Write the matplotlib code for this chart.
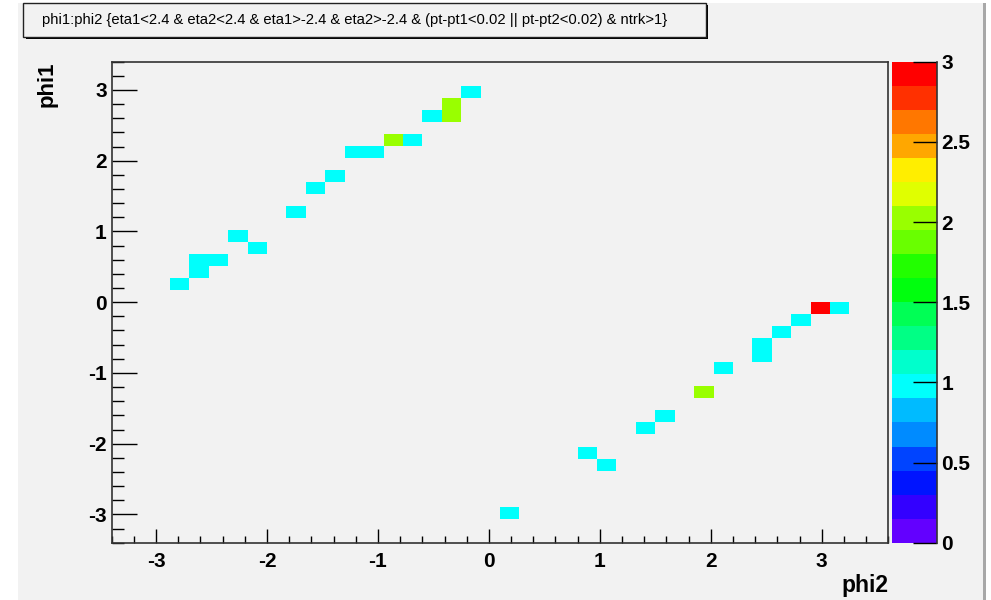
import colorsys
import numpy as np
import matplotlib
matplotlib.use("Agg")
import matplotlib.pyplot as plt
from matplotlib.colors import ListedColormap, BoundaryNorm
from matplotlib.patches import Rectangle
from matplotlib.ticker import MultipleLocator

# filled cells of the 2D histogram: bin centre in phi2 (x), phi1 (y) and the entries
phi2 = [-2.7875, -2.6125, -2.6125, -2.4375, -2.2625, -2.0875, -1.7375, -1.5625,
        -1.3875, -1.2125, -1.0375, -0.8625, -0.6875, -0.5125, -0.3375, -0.3375,
        -0.1625,
        0.1875, 0.8875, 1.0625, 1.4125, 1.5875, 1.9375, 2.1125, 2.4625, 2.4625,
        2.6375, 2.8125, 2.9875, 3.1625]
phi1 = [0.255, 0.595, 0.425, 0.595, 0.935, 0.765, 1.275, 1.615,
        1.785, 2.125, 2.125, 2.295, 2.295, 2.635, 2.805, 2.635,
        2.975,
        -2.975, -2.125, -2.295, -1.785, -1.615, -1.275, -0.935, -0.595, -0.765,
        -0.425, -0.255, -0.085, -0.085]
entries = [1, 1, 1, 1, 1, 1, 1, 1,
           1, 1, 1, 2, 1, 1, 2, 2,
           1,
           1, 1, 1, 1, 1, 2, 1, 1, 1,
           1, 1, 3, 1]

title = "phi1:phi2 {eta1<2.4 & eta2<2.4 & eta1>-2.4 & eta2>-2.4 & (pt-pt1<0.02 || pt-pt2<0.02) & ntrk>1}"
xticks = [-3, -2, -1, 0, 1, 2, 3]
yticks = [-3, -2, -1, 0, 1, 2, 3]
zticks = [0, 0.5, 1, 1.5, 2, 2.5, 3]

# 40 x 40 binning like the TH2 from TTree::Draw
xedges = np.linspace(-3.4, 3.6, 41)
yedges = np.linspace(-3.4, 3.4, 41)
levels = np.linspace(0, 3, 21)

# ROOT "pretty" palette (50 colours), sampled for 20 contours
pretty = [colorsys.hls_to_rgb((280 - (i + 1) * 5.6) / 360.0, 0.5, 1.0) for i in range(50)]
cols = [pretty[int((k + 0.99) * 50 / 20)] for k in range(20)]
cmap = ListedColormap(cols)
norm = BoundaryNorm(levels, cmap.N)

plt.rcParams['font.family'] = ['Liberation Sans', 'DejaVu Sans']
plt.rcParams['axes.unicode_minus'] = False

W, H = 991, 600
fig = plt.figure(figsize=(W / 100, H / 100), dpi=100, facecolor='white')

def fx(px):
    return px / W

def fy(py):
    return 1 - py / H

# grey canvas
fig.patches.append(Rectangle((fx(18), 0), fx(984) - fx(18), fy(3), transform=fig.transFigure,
                             facecolor='#f2f2f2', edgecolor='none', zorder=-2))
fig.patches.append(Rectangle((fx(983), 0), fx(3), fy(3), transform=fig.transFigure,
                             facecolor='#a8a8a8', edgecolor='none', zorder=-2))

ax = fig.add_axes([fx(111.7), fy(542.7), fx(888.3) - fx(111.7), fy(61.7) - fy(542.7)])
ax.set_facecolor('#f2f2f2')

h, _, _ = np.histogram2d(phi2, phi1, bins=[xedges, yedges], weights=entries)
h = np.ma.masked_equal(h.T, 0)
mesh = ax.pcolormesh(xedges, yedges, h, cmap=cmap, norm=norm, edgecolors='none', antialiased=False)

ax.set_xlim(xedges[0], xedges[-1])
ax.set_ylim(yedges[0], yedges[-1])
ax.set_xticks(xticks)
ax.set_yticks(yticks)
ax.xaxis.set_minor_locator(MultipleLocator(0.2))
ax.yaxis.set_minor_locator(MultipleLocator(0.2))
ax.tick_params(axis='x', which='major', direction='in', length=10, width=1, pad=6.5,
               labelsize=15, top=False)
ax.tick_params(axis='x', which='minor', direction='in', length=5, width=1, top=False)
ax.tick_params(axis='y', which='major', direction='in', length=18, width=1, pad=3.5,
               labelsize=15, right=False)
ax.tick_params(axis='y', which='minor', direction='in', length=8.5, width=1, right=False)
for lab in ax.get_xticklabels() + ax.get_yticklabels():
    lab.set_fontweight('bold')
for s in ax.spines.values():
    s.set_color('#333333')
    s.set_linewidth(1.2)

fig.text(fx(888), fy(574), 'phi2', ha='right', va='top', fontsize=16.5, fontweight='bold')
fig.text(fx(37), fy(61.7), 'phi1', ha='left', va='top', rotation=90, fontsize=16, fontweight='bold')

# palette axis
cax = fig.add_axes([fx(892.3), fy(542.7), fx(937.3) - fx(892.3), fy(61.7) - fy(542.7)])
cb = fig.colorbar(mesh, cax=cax, ticks=zticks)
cb.outline.set_visible(False)
cb.ax.set_yticklabels(['0', '0.5', '1', '1.5', '2', '2.5', '3'])
cax.tick_params(axis='y', direction='in', length=17, width=1, pad=3, labelsize=15, right=True, left=False)
cax.yaxis.set_ticks_position('right')
cax.minorticks_off()
for lab in cax.get_yticklabels():
    lab.set_fontweight('bold')
cax.plot([1, 1], [0, 1], transform=cax.transAxes, color='#333333', lw=1.2, clip_on=False)

# title box with shadow
fig.patches.append(Rectangle((fx(25.5), fy(38.5)), fx(706) - fx(23.3), fy(3.3) - fy(36.7),
                             transform=fig.transFigure, facecolor='black', edgecolor='none', zorder=2))
fig.patches.append(Rectangle((fx(23.3), fy(36.7)), fx(706) - fx(23.3), fy(3.3) - fy(36.7),
                             transform=fig.transFigure, facecolor='#f2f2f2', edgecolor='#222222',
                             linewidth=1, zorder=3))
fig.text(fx(355), fy(20), title, ha='center', va='center', fontsize=10.6, zorder=4)

fig.savefig('out.png', dpi=100, facecolor='white')
